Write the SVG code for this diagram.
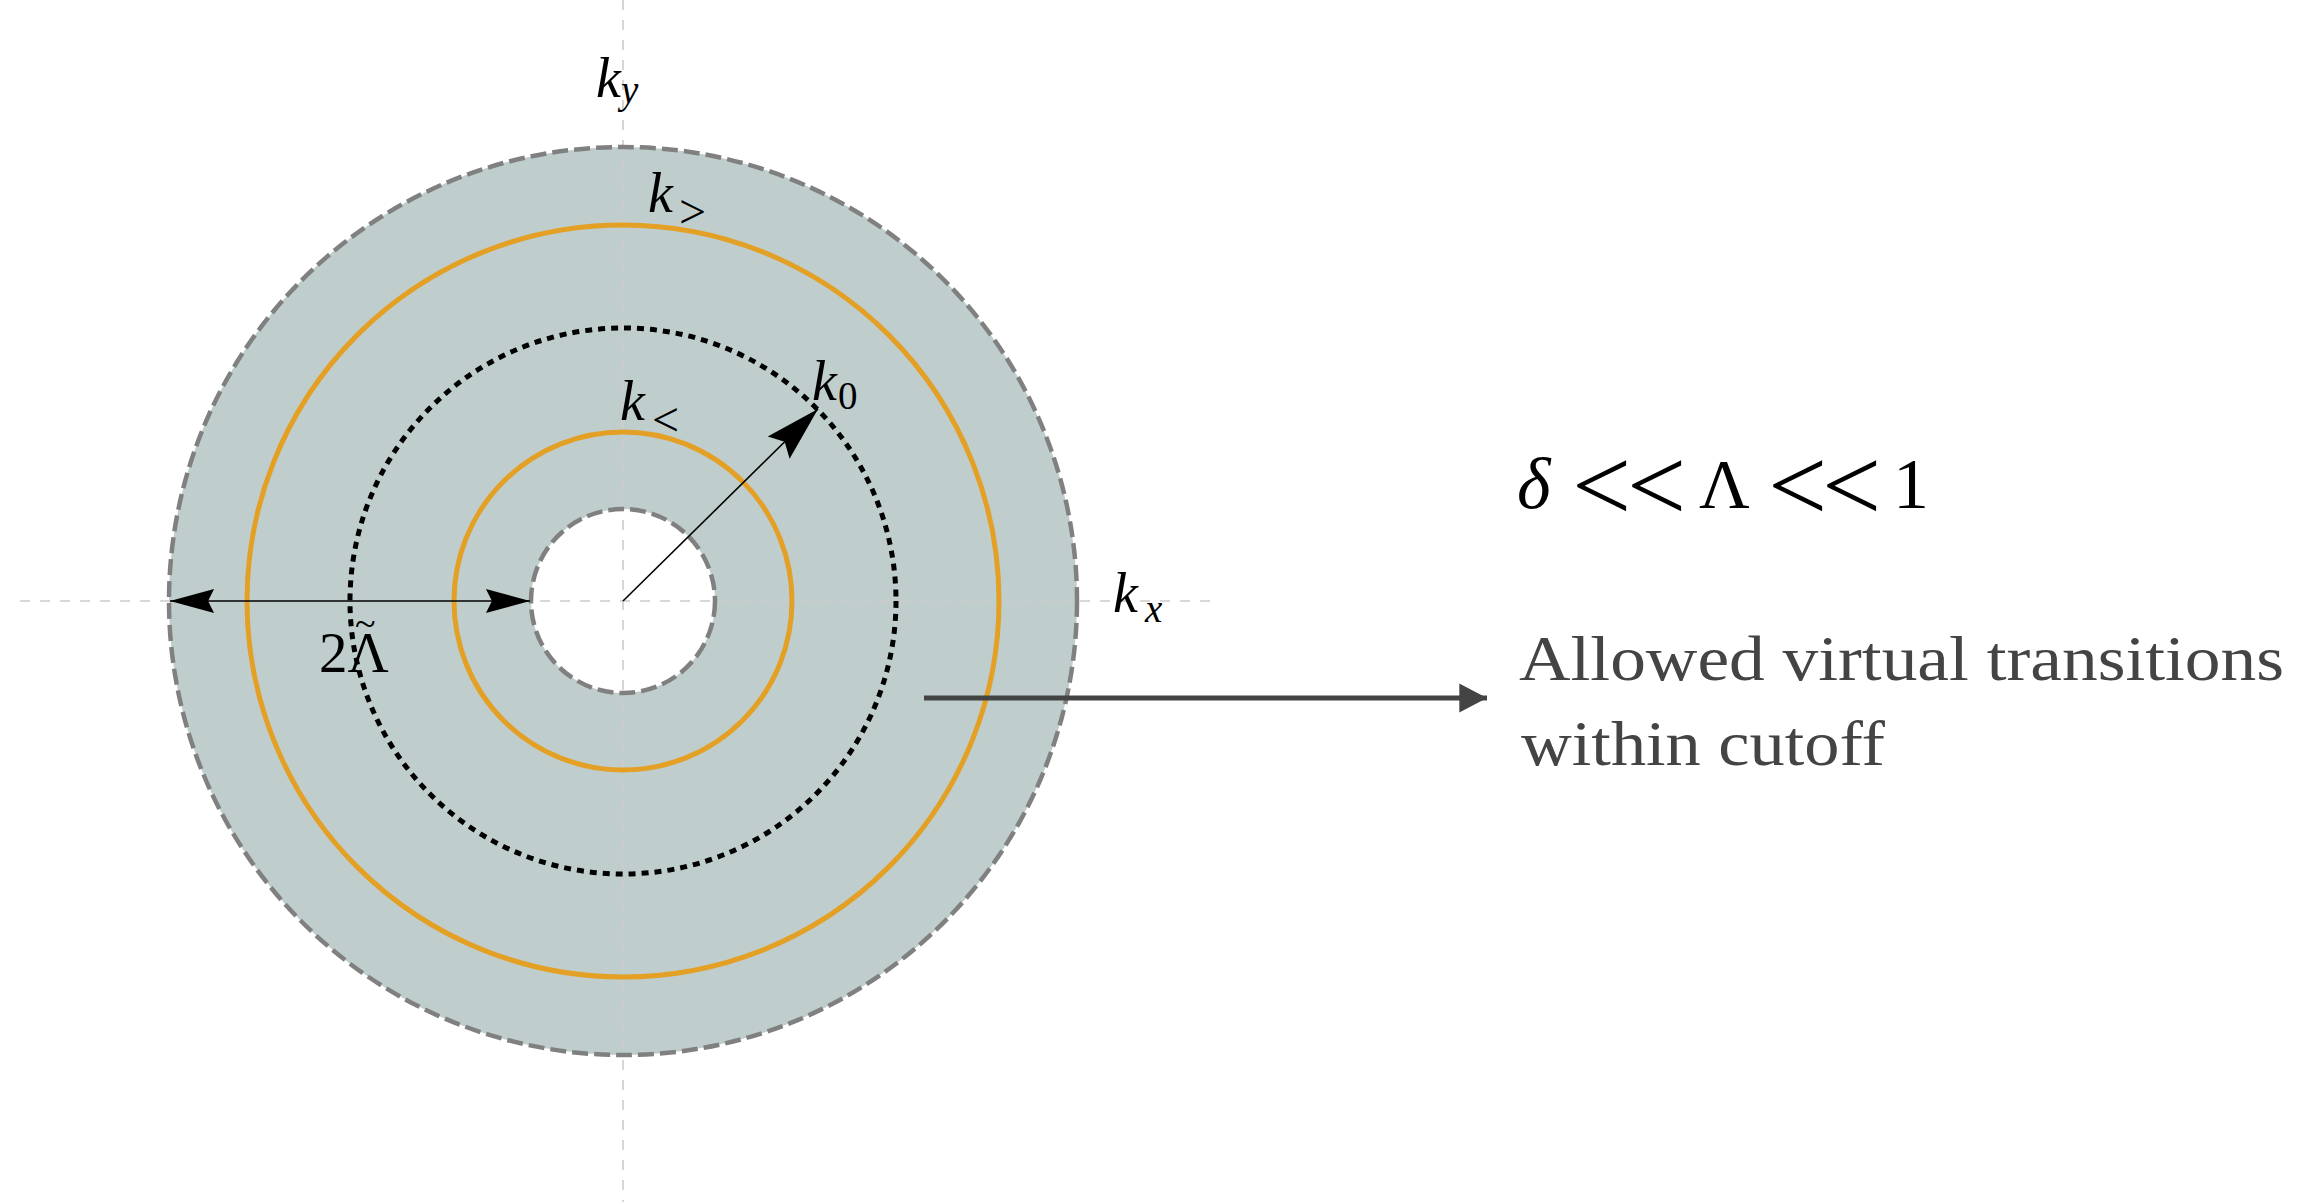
<svg xmlns="http://www.w3.org/2000/svg" width="2299" height="1202" viewBox="0 0 2299 1202">
<style>
.axis{stroke:#cccccc;stroke-width:1.6;stroke-dasharray:10 10;fill:none}
.bound{stroke:#808080;stroke-width:4.5;stroke-dasharray:16 6;fill:none}
.orange{stroke:#e3a024;stroke-width:5;fill:none}
.dotted{stroke:#000;stroke-width:5;stroke-dasharray:7 6;fill:none}
.math{font-family:"Liberation Serif","DejaVu Serif",serif;fill:#000}
.it{font-style:italic}
.lbl{font-size:56px}
.sub{font-size:39px}
.rel{font-size:48px}
.note{font-family:"Liberation Serif","DejaVu Serif",serif;font-size:64px;fill:#444}
</style>
<defs>
<marker id="stealth" markerUnits="userSpaceOnUse" markerWidth="50" markerHeight="30" viewBox="-40 -12 42 24" refX="0" refY="0" orient="auto-start-reverse">
<path d="M0,0 L-37,-10 L-32,0 L-37,10 Z" fill="#000"/>
</marker>
<marker id="stealthBig" markerUnits="userSpaceOnUse" markerWidth="60" markerHeight="40" viewBox="-48 -15 50 30" refX="0" refY="0" orient="auto">
<path d="M0,0 L-46,-13 L-39,0 L-46,13 Z" fill="#000"/>
</marker>
<marker id="tri" markerUnits="userSpaceOnUse" markerWidth="30" markerHeight="30" viewBox="-25 -13 26 26" refX="0" refY="0" orient="auto">
<path d="M0,0 L-24,-12.5 L-24,12.5 Z" fill="#444"/>
</marker>
</defs>

<g id="annulus">
<circle cx="623" cy="601" r="454" fill="#bfcecd"/>
<circle cx="623" cy="601" r="92" fill="#ffffff"/>
</g>

<g id="axes">
<line class="axis" x1="623" y1="0" x2="623" y2="1202"/>
<line class="axis" x1="20" y1="601" x2="1214" y2="601"/>
</g>

<g id="outer-boundary"><circle class="bound" cx="623" cy="601" r="454"/></g>
<g id="inner-boundary"><circle class="bound" cx="623" cy="601" r="92"/></g>
<g id="k-greater-circle"><circle class="orange" cx="623" cy="601" r="376"/></g>
<g id="k-less-circle"><circle class="orange" cx="623" cy="601" r="169"/></g>
<g id="k0-circle"><circle class="dotted" cx="623" cy="601" r="273"/></g>

<g id="connectors">
<line x1="623" y1="601" x2="818" y2="409" stroke="#000" stroke-width="1.6" marker-end="url(#stealthBig)"/>
<line x1="170" y1="601" x2="530" y2="601" stroke="#000" stroke-width="1.6" marker-start="url(#stealth)" marker-end="url(#stealth)"/>
<line x1="924" y1="698" x2="1487" y2="698" stroke="#444" stroke-width="5" marker-end="url(#tri)"/>
</g>

<g id="label-ky"><text class="math it lbl" x="596" y="97">k</text><text class="math it sub" x="621" y="103">y</text></g>
<g id="label-kgt"><text class="math it lbl" x="648" y="212">k</text><text class="math rel" x="679" y="228">&gt;</text></g>
<g id="label-klt"><text class="math it lbl" x="620" y="420">k</text><text class="math rel" x="652" y="436">&lt;</text></g>
<g id="label-k0"><text class="math it lbl" x="812" y="400">k</text><text class="math sub" x="838" y="409">0</text></g>
<g id="label-kx"><text class="math it lbl" x="1113" y="612">k</text><text class="math it sub" x="1145" y="622">x</text></g>
<g id="label-2lambda"><text class="math" font-size="57" x="319" y="672">2Λ<tspan font-size="38" x="355" y="636">~</tspan></text></g>

<g id="inequality">
<text class="math" font-size="70" y="508"><tspan class="it" font-size="72" x="1517">δ</tspan><tspan font-size="105" x="1572" y="521">&lt;</tspan><tspan font-size="105" x="1627" y="521">&lt;</tspan><tspan x="1699" y="508">Λ</tspan><tspan font-size="105" x="1768" y="521">&lt;</tspan><tspan font-size="105" x="1822" y="521">&lt;</tspan><tspan font-size="72" x="1893" y="508">1</tspan></text>
</g>

<g id="note">
<text class="note" x="1519" y="680" textLength="765" lengthAdjust="spacingAndGlyphs">Allowed virtual transitions</text>
<text class="note" x="1521" y="765" textLength="364" lengthAdjust="spacingAndGlyphs">within cutoff</text>
</g>
</svg>
